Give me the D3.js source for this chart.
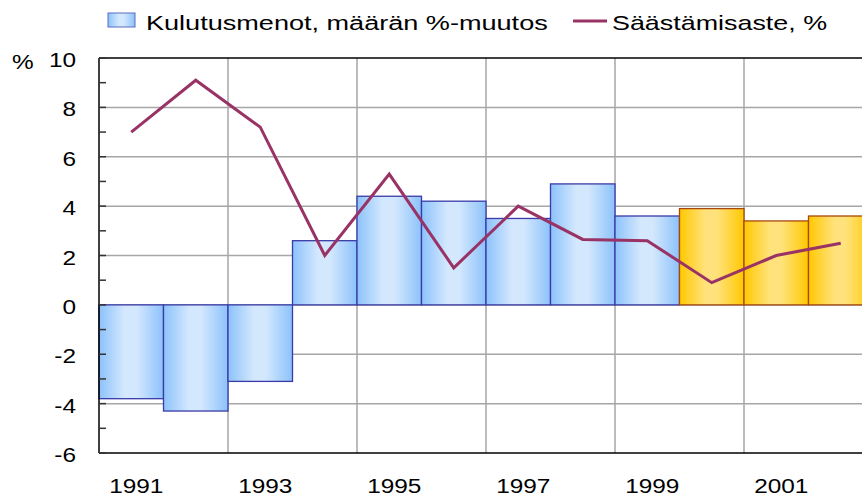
<!DOCTYPE html>
<html>
<head>
<meta charset="utf-8">
<script src="https://cdn.jsdelivr.net/npm/d3@7"></script>
<style>
  body { margin: 0; background: #fff; }
  text { font-family: "Liberation Sans", Arial, sans-serif; fill: #000; }
</style>
</head>
<body>
<script>
// data
var years = [1991, 1992, 1993, 1994, 1995, 1996, 1997, 1998, 1999, 2000, 2001, 2002];
var spending = [-3.8, -4.3, -3.1, 2.6, 4.4, 4.2, 3.5, 4.9, 3.6, 3.9, 3.4, 3.6];
var savingRate = [7.0, 9.1, 7.2, 2.0, 5.3, 1.5, 4.0, 2.65, 2.6, 0.9, 2.0, 2.5];
var forecastFrom = 2000;
var yTicks = [-6, -4, -2, 0, 2, 4, 6, 8, 10];
var xLabels = [1991, 1993, 1995, 1997, 1999, 2001];
var legendBar = "Kulutusmenot, määrän %-muutos";
var legendLine = "Säästämisaste, %";

var svgWidth = 862;
var svgHeight = 499;
// plot runs past the right edge, like the original
var margin = { top: 58, left: 99, right: -11, bottom: 46 };
var chartWidth = svgWidth - margin.left - margin.right;
var chartHeight = svgHeight - margin.top - margin.bottom;
var stretch = 1.25; // text in the picture is stretched sideways

var svg = d3.select("body")
  .append("svg")
  .attr("width", svgWidth)
  .attr("height", svgHeight);

// gradients for the bars
var defs = svg.append("defs");
function addGradient(id, edge, mid) {
  var g = defs.append("linearGradient").attr("id", id)
    .attr("x1", "0%").attr("x2", "100%").attr("y1", "0%").attr("y2", "0%");
  g.append("stop").attr("offset", "0%").attr("stop-color", edge);
  g.append("stop").attr("offset", "40%").attr("stop-color", mid);
  g.append("stop").attr("offset", "58%").attr("stop-color", mid);
  g.append("stop").attr("offset", "100%").attr("stop-color", edge);
}
addGradient("blueGrad", "#8cc2fb", "#d4e8fd");
addGradient("goldGrad", "#ffc800", "#ffe27c");

var chartGroup = svg.append("g")
  .attr("transform", `translate(${margin.left}, ${margin.top})`);

var xScale = d3.scaleBand()
  .domain(years)
  .range([0, chartWidth])
  .padding(0);

var yScale = d3.scaleLinear()
  .domain([-6, 10])
  .range([chartHeight, 0]);

// horizontal gridlines
chartGroup.append("g")
  .selectAll("line")
  .data(yTicks.filter(d => d > -6 && d < 10))
  .enter()
  .append("line")
  .attr("x1", 0)
  .attr("x2", chartWidth)
  .attr("y1", d => yScale(d))
  .attr("y2", d => yScale(d))
  .attr("stroke", "#a6a6a6")
  .attr("stroke-width", 1.5);

// vertical gridlines every second year
chartGroup.append("g")
  .selectAll("line")
  .data(xLabels.slice(1))
  .enter()
  .append("line")
  .attr("x1", d => xScale(d))
  .attr("x2", d => xScale(d))
  .attr("y1", 0)
  .attr("y2", chartHeight)
  .attr("stroke", "#a6a6a6")
  .attr("stroke-width", 1.5);

// bars
chartGroup.append("g")
  .selectAll("rect")
  .data(years)
  .enter()
  .append("rect")
  .attr("x", d => xScale(d))
  .attr("width", xScale.bandwidth())
  .attr("y", (d, i) => yScale(Math.max(0, spending[i])))
  .attr("height", (d, i) => Math.abs(yScale(spending[i]) - yScale(0)))
  .attr("fill", d => d >= forecastFrom ? "url(#goldGrad)" : "url(#blueGrad)")
  .attr("stroke", d => d >= forecastFrom ? "#a8480c" : "#3a3aa8")
  .attr("stroke-width", 1.3);

// axes lines
chartGroup.append("line")
  .attr("x1", 0).attr("x2", chartWidth)
  .attr("y1", 0).attr("y2", 0)
  .attr("stroke", "#000").attr("stroke-width", 1.5);
chartGroup.append("line")
  .attr("x1", 0).attr("x2", chartWidth)
  .attr("y1", chartHeight).attr("y2", chartHeight)
  .attr("stroke", "#000").attr("stroke-width", 1.5);
chartGroup.append("line")
  .attr("x1", 0).attr("x2", 0)
  .attr("y1", 0).attr("y2", chartHeight)
  .attr("stroke", "#000").attr("stroke-width", 1.5);

// small ticks inside the y axis
chartGroup.append("g")
  .selectAll("line")
  .data(d3.range(-6, 11, 1))
  .enter()
  .append("line")
  .attr("x1", 0)
  .attr("x2", 7)
  .attr("y1", d => yScale(d))
  .attr("y2", d => yScale(d))
  .attr("stroke", "#333")
  .attr("stroke-width", 1.5);

// saving rate line
var drawLine = d3.line()
  .x((d, i) => xScale(years[i]) + xScale.bandwidth() / 2)
  .y(d => yScale(d));
chartGroup.append("path")
  .attr("d", drawLine(savingRate))
  .attr("fill", "none")
  .attr("stroke", "#993366")
  .attr("stroke-width", 3)
  .attr("stroke-linejoin", "miter");

// y labels
chartGroup.append("g")
  .selectAll("text")
  .data(yTicks)
  .enter()
  .append("text")
  .attr("transform", d => `translate(-23, ${yScale(d) + 9}) scale(${stretch}, 1)`)
  .attr("text-anchor", "end")
  .attr("font-size", 19.5)
  .text(d => d);
chartGroup.append("text")
  .attr("transform", `translate(-87, 11) scale(${stretch}, 1)`)
  .attr("font-size", 19.5)
  .text("%");

// x labels
chartGroup.append("g")
  .selectAll("text")
  .data(xLabels)
  .enter()
  .append("text")
  .attr("transform", d => `translate(${xScale(d) + xScale.bandwidth() / 2 + 5}, ${chartHeight + 40}) scale(${stretch}, 1)`)
  .attr("text-anchor", "middle")
  .attr("font-size", 19.5)
  .text(d => d);

// legend
var legend = svg.append("g");
legend.append("rect")
  .attr("x", 108).attr("y", 13)
  .attr("width", 27).attr("height", 14)
  .attr("fill", "url(#blueGrad)")
  .attr("stroke", "#5a6ac0")
  .attr("stroke-width", 1);
legend.append("text")
  .attr("transform", `translate(146, 30) scale(1.29, 1)`)
  .attr("font-size", 21)
  .text(legendBar);
legend.append("line")
  .attr("x1", 573).attr("x2", 607)
  .attr("y1", 21).attr("y2", 21)
  .attr("stroke", "#993366")
  .attr("stroke-width", 3);
legend.append("text")
  .attr("transform", `translate(612, 30) scale(1.28, 1)`)
  .attr("font-size", 21)
  .text(legendLine);
</script>
</body>
</html>
